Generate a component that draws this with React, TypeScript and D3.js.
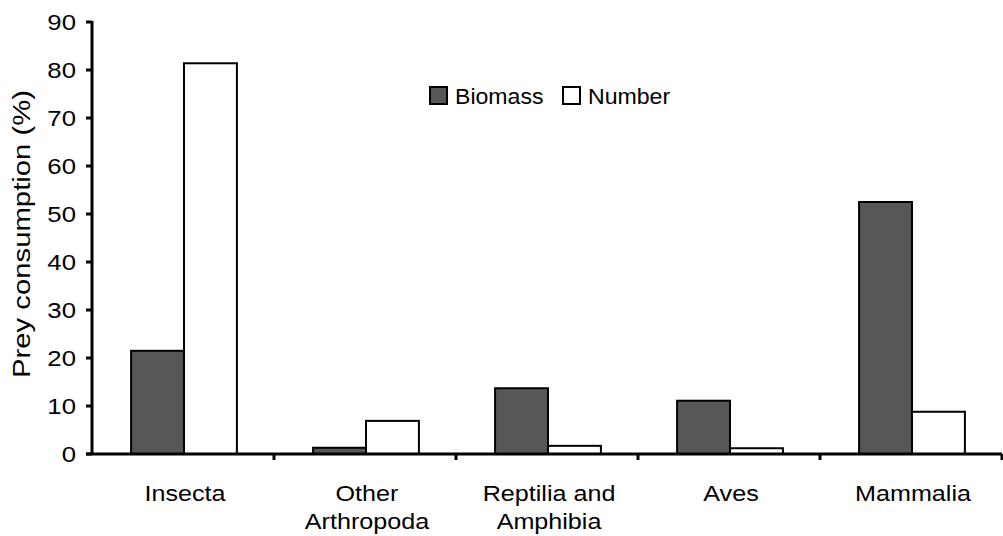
import React, { useEffect, useRef } from "react";
import * as d3 from "d3";

const categories: string[][] = [
  ["Insecta"],
  ["Other", "Arthropoda"],
  ["Reptilia and", "Amphibia"],
  ["Aves"],
  ["Mammalia"],
];
const seriesNames = ["Biomass", "Number"];
const biomass = [21.5, 1.3, 13.7, 11.1, 52.5];
const number = [81.4, 6.9, 1.7, 1.2, 8.8];
const yTicks = [0, 10, 20, 30, 40, 50, 60, 70, 80, 90];

const W = 1003;
const H = 536;
const FONT = "'Liberation Sans', Arial, sans-serif";

export default function App() {
  const ref = useRef<SVGSVGElement>(null);
  useEffect(() => {
    const svg = d3.select(ref.current);
    svg.selectAll("*").remove();
    const left = 92, right = 1002, top = 22, bottom = 454;
    const y = d3.scaleLinear().domain([0, 90]).range([bottom, top]);
    const keys = categories.map((c) => c.join(" "));
    const x0 = d3.scaleBand<string>().domain(keys).range([left, right]).padding(0);
    const x1 = d3
      .scaleBand<string>()
      .domain(seriesNames)
      .range([0, x0.bandwidth()])
      .paddingInner(0)
      .paddingOuter(0.72);
    const g = svg.append("g");
    const fills: Record<string, string> = { Biomass: "#575757", Number: "#ffffff" };

    const txt = (x: number, y: number, s: string, size: number, sx: number, anchor: string, rot = 0) =>
      g.append("text")
        .attr("transform", `translate(${x},${y}) rotate(${rot}) scale(${sx},1)`)
        .attr("text-anchor", anchor)
        .attr("font-family", FONT)
        .attr("font-size", size)
        .attr("fill", "#000")
        .text(s);

    const rows = keys.map((k, i) => ({ k, vals: [biomass[i], number[i]] }));
    rows.forEach((r) => {
      r.vals.forEach((v, j) => {
        const s = seriesNames[j];
        g.append("rect")
          .attr("x", (x0(r.k) as number) + (x1(s) as number) + 1)
          .attr("y", y(v))
          .attr("width", x1.bandwidth())
          .attr("height", y(0) - y(v))
          .attr("fill", fills[s])
          .attr("stroke", "#000")
          .attr("stroke-width", 2);
      });
    });
    // y axis
    g.append("line").attr("x1", left).attr("x2", left).attr("y1", top - 1).attr("y2", bottom)
      .attr("stroke", "#000").attr("stroke-width", 3);
    yTicks.forEach((t) => {
      g.append("line").attr("x1", left - 6).attr("x2", left).attr("y1", y(t)).attr("y2", y(t))
        .attr("stroke", "#000").attr("stroke-width", 3);
      txt(left - 16, y(t) + 8, String(t), 23, 1.12, "end");
    });
    // x axis
    g.append("line").attr("x1", left - 6).attr("x2", right).attr("y1", bottom).attr("y2", bottom)
      .attr("stroke", "#000").attr("stroke-width", 3);
    const bounds = keys.map((k) => (x0(k) as number) + x0.bandwidth());
    bounds.forEach((b) => {
      g.append("line").attr("x1", b).attr("x2", b).attr("y1", bottom).attr("y2", bottom + 6)
        .attr("stroke", "#000").attr("stroke-width", 3);
    });
    categories.forEach((lines, i) => {
      const cx = (x0(keys[i]) as number) + x0.bandwidth() / 2 + 2;
      lines.forEach((ln, j) => {
        txt(cx, 501 + j * 28, ln, 21.5, 1.17, "middle");
      });
    });
    // y label
    txt(30, 234, "Prey consumption (%)", 24, 1.22, "middle", -90);
    // legend
    const legX = [430, 563];
    seriesNames.forEach((s, i) => {
      g.append("rect").attr("x", legX[i]).attr("y", 87).attr("width", 17).attr("height", 17)
        .attr("fill", fills[s]).attr("stroke", "#000").attr("stroke-width", 2);
      txt(legX[i] + 25, 104, s, 22, 1.05, "start");
    });
  }, []);
  return (
    <svg ref={ref} width={W} height={H} style={{ position: "absolute", left: 0, top: 0, background: "#fff" }} />
  );
}
